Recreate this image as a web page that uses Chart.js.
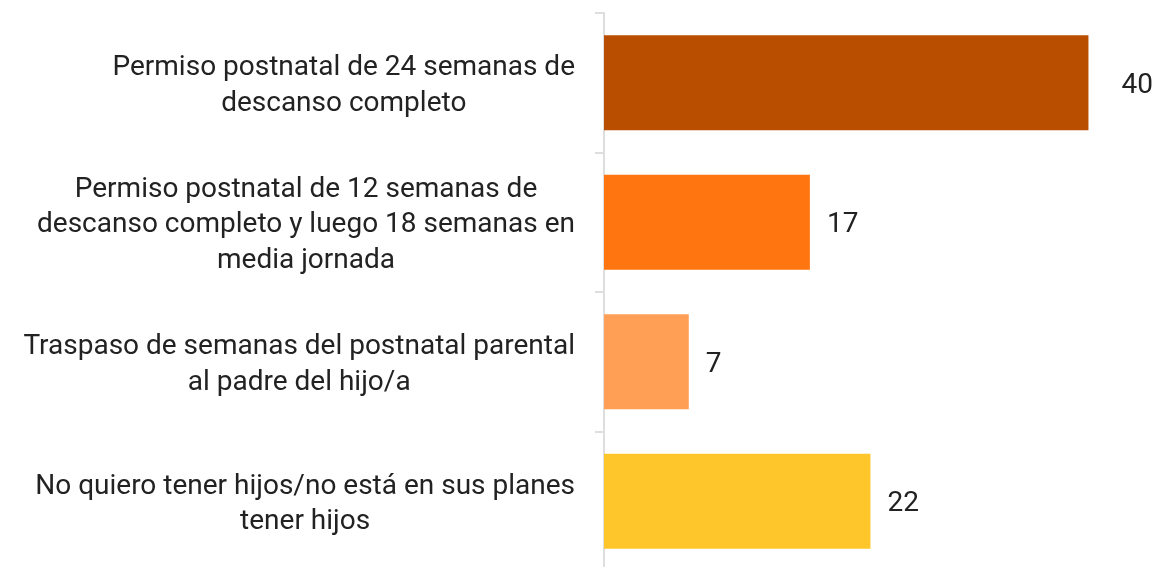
<!DOCTYPE html>
<html>
<head>
<meta charset="utf-8">
<script src="https://cdn.jsdelivr.net/npm/chart.js@4"></script>
<style>
  html, body { margin: 0; padding: 0; background: #fff; overflow: hidden; }
  #wrap { width: 1158px; height: 580px; position: relative; }
</style>
</head>
<body>
<div id="wrap"><canvas id="permisoChart"></canvas></div>
<script>
const categories = [
    ['Permiso postnatal de 24 semanas de', 'descanso completo'],
    ['Permiso postnatal de 12 semanas de', 'descanso completo y luego 18 semanas en', 'media jornada'],
    ['Traspaso de semanas del postnatal parental', 'al padre del hijo/a'],
    ['No quiero tener hijos/no está en sus planes', 'tener hijos']
];
const values = [40, 17, 7, 22];
const barColors = ['#b94e00', '#ff750f', '#ff9e55', '#ffc62c'];

const FONT = 'Roboto, "Noto Sans", sans-serif';

// category text is right-aligned as a block, each line centered inside it
const labelPlugin = {
    id: 'labels',
    afterDatasetsDraw(chart) {
        const ctx = chart.ctx;
        const yScale = chart.scales.y;
        const meta = chart.getDatasetMeta(0);
        ctx.save();
        ctx.fillStyle = '#222';
        ctx.textBaseline = 'middle';
        ctx.textAlign = 'center';
        ctx.font = '28px ' + FONT;
        const right = 575, lh = 35.5;
        categories.forEach((lines, i) => {
            const cy = yScale.getPixelForValue(i);
            const w = Math.max(...lines.map(l => ctx.measureText(l).width));
            const cx = right - w / 2;
            lines.forEach((l, j) => {
                ctx.fillText(l, cx, cy + 3 + (j - (lines.length - 1) / 2) * lh);
            });
        });
        // value labels
        ctx.textAlign = 'left';
        meta.data.forEach((bar, i) => {
            const gap = i === 0 ? 33 : 17;
            ctx.fillText(String(values[i]), bar.x + gap, bar.y + 3);
        });
        ctx.restore();
    }
};

new Chart(document.getElementById('permisoChart'), {
    type: 'bar',
    data: {
        labels: categories,
        datasets: [{
            data: values,
            backgroundColor: barColors,
            borderWidth: 0,
            barPercentage: 0.68,
            categoryPercentage: 1
        }]
    },
    options: {
        indexAxis: 'y',
        responsive: true,
        maintainAspectRatio: false,
        animation: false,
        layout: {
            padding: { top: 13, bottom: 9, left: 0, right: 9 }
        },
        scales: {
            x: {
                display: false,
                min: 0,
                max: 45
            },
            y: {
                afterFit(scale) { scale.width = 604; },
                ticks: { display: false },
                grid: {
                    offset: true,
                    drawOnChartArea: false,
                    drawTicks: true,
                    tickLength: 9,
                    color: '#dedede',
                    lineWidth: 2
                },
                border: { color: '#dedede', width: 2 }
            }
        },
        plugins: {
            legend: { display: false },
            tooltip: { enabled: false }
        }
    },
    plugins: [labelPlugin]
});
</script>
</body>
</html>
